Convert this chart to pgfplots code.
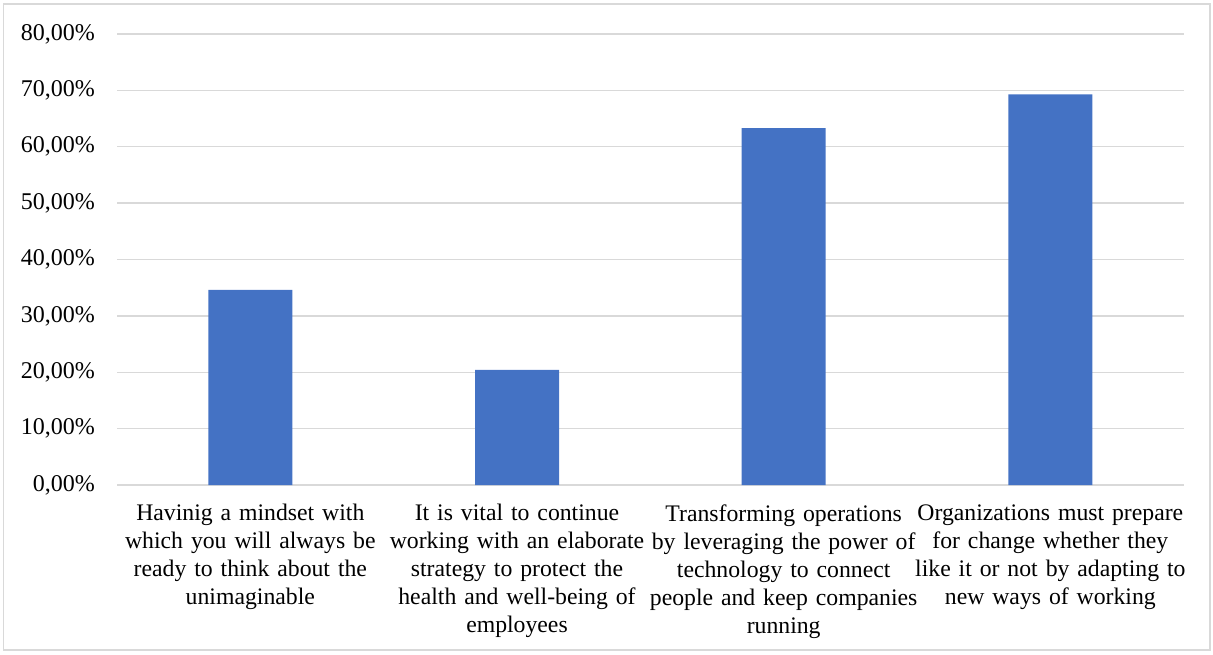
\documentclass[border=0pt]{standalone}
\usepackage{pgfplots}
\pgfplotsset{compat=1.18}
\usepackage{fontspec}
\setmainfont{Liberation Serif}
\definecolor{barblue}{HTML}{4472C4}
\definecolor{gridgray}{HTML}{D9D9D9}
\begin{document}
\begin{tikzpicture}[x=1pt,y=1pt]
\useasboundingbox (0,0) rectangle (909.75,490.5);
\draw[gridgray, line width=1pt] (2.5,3) rectangle (907.5,487.5);
\begin{axis}[
  at={(87.75pt,126.75pt)}, anchor=south west,
  scale only axis, width=800pt, height=338.25pt,
  xmin=-0.5, xmax=3.5, ymin=0, ymax=80,
  axis line style={draw=none},
  ytick={0,10,...,80},
  ymajorgrids, major grid style={gridgray, line width=1pt},
  xtick={0,1,2,3},
  major tick length=0pt,
  xticklabels={
    {Havinig a mindset with\\which you will always be\\ready to think about the\\unimaginable},
    {It is vital to continue\\working with an elaborate\\strategy to protect the\\health and well-being of\\employees},
    {Transforming operations\\by leveraging the power of\\technology to connect\\people and keep companies\\running},
    {Organizations must prepare\\for change whether they\\like it or not by adapting to\\new ways of working}},
  xticklabel style={align=center, text width=205pt, anchor=north, yshift=-11pt,
    font=\fontsize{17.8}{21}\selectfont},
  yticklabel style={font=\fontsize{18}{20}\selectfont, xshift=-13pt},
  /pgf/number format/assume math mode=true,
  yticklabel={\pgfmathprintnumber[fixed,fixed zerofill,precision=2,use comma]{\tick}\%},
  clip=false,
]
\draw[gridgray, line width=1pt] (axis cs:-0.5,0) -- (axis cs:3.5,0);
\addplot[ybar, bar width=63pt, fill=barblue, draw=none] coordinates {
  (0,34.6) (1,20.4) (2,63.3) (3,69.3)
};
\end{axis}
\end{tikzpicture}
\end{document}
